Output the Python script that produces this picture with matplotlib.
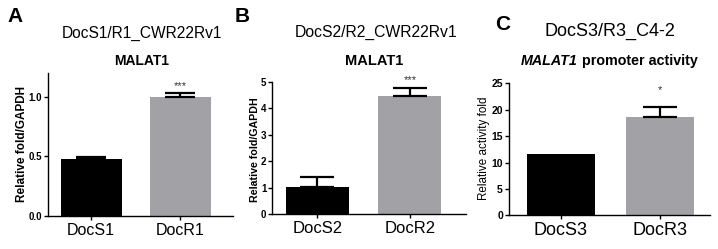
import matplotlib
matplotlib.use("Agg")
import matplotlib.pyplot as plt

plt.rcParams['font.family'] = ['Liberation Sans', 'DejaVu Sans']

# ---- data ----
cats_a = ["DocS1", "DocR1"]
vals_a = [0.48, 1.00]
errs_a = [0.015, 0.03]
stars_a = ["", "***"]

cats_b = ["DocS2", "DocR2"]
vals_b = [1.03, 4.45]
errs_b = [0.37, 0.30]
stars_b = ["", "***"]

cats_c = ["DocS3", "DocR3"]
vals_c = [11.6, 18.6]
errs_c = [0.0, 1.95]
stars_c = ["", "*"]

ticks_a = [0.0, 0.5, 1.0]
ticks_b = [0, 1, 2, 3, 4, 5]
ticks_c = [0, 5, 10, 15, 20, 25]

bar_colors = ["#000000", "#A2A2A6"]

W, H = 718, 249
fig = plt.figure(figsize=(W / 100, H / 100), dpi=100)


def px(x, y):
    return x / W, 1 - y / H


def make_axes(l, r, b, t):
    return fig.add_axes([l / W, 1 - b / H, (r - l) / W, (b - t) / H])


def panel(ax, cats, vals, errs, stars, ticks, ylim, xlim, width,
          capsize, ytick_fs, xtick_fs, ytick_fmt, star_off):
    xs = list(range(len(cats)))
    ax.bar(xs, vals, width=width, color=bar_colors, edgecolor='none', zorder=2)
    for x, v, e in zip(xs, vals, errs):
        if e > 0:
            ax.errorbar([x], [v], yerr=[[0], [e]], fmt='none', ecolor='black',
                        elinewidth=1.6, capsize=capsize, capthick=1.6, zorder=3)
    for x, v, e, s in zip(xs, vals, errs, stars):
        if s:
            ax.text(x, v + e + star_off, s, ha='center', va='bottom',
                    fontsize=8, color='#333333')
    ax.set_xlim(*xlim)
    ax.set_ylim(*ylim)
    ax.set_xticks(xs)
    ax.set_xticklabels(cats, fontsize=xtick_fs)
    ax.set_yticks(ticks)
    ax.set_yticklabels([ytick_fmt(t) for t in ticks], fontsize=ytick_fs,
                       fontweight='bold')
    for sp in ['top', 'right']:
        ax.spines[sp].set_visible(False)
    for sp in ['left', 'bottom']:
        ax.spines[sp].set_linewidth(1.0)
    ax.tick_params(axis='both', direction='out', length=3, width=1.0)
    ax.tick_params(axis='x', pad=2)
    ax.tick_params(axis='y', pad=1)


axA = make_axes(47.7, 233, 216, 72.7)
panel(axA, cats_a, vals_a, errs_a, stars_a, ticks_a, (0, 1.2),
      (-0.485, 1.59), 0.683, 10.5, 7, 11.5, lambda t: f"{t:.1f}", 0.02)

axB = make_axes(272, 466.5, 214.3, 81.7)
panel(axB, cats_b, vals_b, errs_b, stars_b, ticks_b, (0, 5),
      (-0.489, 1.61), 0.68, 12.5, 7, 12, lambda t: f"{t:d}", 0.12)

axC = make_axes(508.5, 710, 215.3, 83.3)
panel(axC, cats_c, vals_c, errs_c, stars_c, ticks_c, (0, 25),
      (-0.526, 1.50), 0.685, 12.5, 7.5, 13, lambda t: f"{t:d}", 2.3)

# panel letters
for letter, (x, y) in [("A", (15, 17)), ("B", (242, 17)), ("C", (502.5, 25))]:
    fig.text(*px(x, y), letter, fontsize=15, fontweight='bold',
             ha='center', va='center')

# titles
fig.text(*px(142, 33), "DocS1/R1_CWR22Rv1", fontsize=11.2, ha='center', va='center')
fig.text(*px(376.5, 32), "DocS2/R2_CWR22Rv1", fontsize=11.3, ha='center', va='center')
fig.text(*px(610, 31), "DocS3/R3_C4-2", fontsize=13, ha='center', va='center')

# subtitles
fig.text(*px(142, 61), "MALAT1", fontsize=10, fontweight='bold', ha='center', va='center')
fig.text(*px(374, 61), "MALAT1", fontsize=10.5, fontweight='bold', ha='center', va='center')

# mixed-style subtitle for panel C: bold italic gene name + bold text
renderer = fig.canvas.get_renderer()
t1 = fig.text(0, 0, "MALAT1", fontsize=10.3, fontweight='bold', fontstyle='italic',
              ha='left', va='center')
t2 = fig.text(0, 0, " promoter activity", fontsize=10.3, fontweight='bold',
              ha='left', va='center')
w1 = t1.get_window_extent(renderer).width
w2 = t2.get_window_extent(renderer).width
x0 = 609 - (w1 + w2) / 2
t1.set_position(px(x0, 61))
t2.set_position(px(x0 + w1, 61))

# y labels
fig.text(*px(22, 143.5), "Relative fold/GAPDH", fontsize=8.5, fontweight='bold',
         rotation=90, ha='center', va='center')
fig.text(*px(255, 149.5), "Relative fold/GAPDH", fontsize=7.7, fontweight='bold',
         rotation=90, ha='center', va='center')
fig.text(*px(484, 148.5), "Relative activity fold", fontsize=8.4,
         rotation=90, ha='center', va='center')

fig.savefig("out.png", dpi=100)
